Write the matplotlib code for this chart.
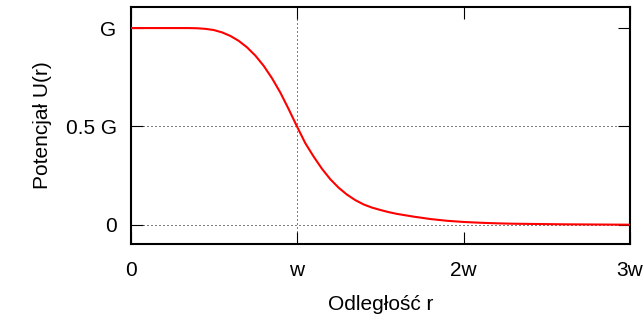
import matplotlib
matplotlib.use("Agg")
import matplotlib.pyplot as plt

plt.rcParams['font.family'] = ['Liberation Sans', 'DejaVu Sans']

# (r in units of w, U in units of G)
r_vals = [0.0, 0.10, 0.20, 0.30, 0.35, 0.40, 0.45, 0.50, 0.55, 0.60, 0.65,
          0.70, 0.75, 0.80, 0.85, 0.90, 0.95, 1.00, 1.05, 1.10, 1.15, 1.20,
          1.25, 1.30, 1.35, 1.40, 1.45, 1.50, 1.55, 1.60, 1.65, 1.70, 1.80,
          1.90, 2.00, 2.10, 2.20, 2.30, 2.40, 2.60, 2.80, 3.00]
u_vals = [1.0, 1.0, 1.0, 1.0, 1.0, 0.999, 0.996, 0.990, 0.978, 0.960, 0.935,
          0.902, 0.860, 0.808, 0.745, 0.672, 0.588, 0.500, 0.415, 0.347, 0.285,
          0.232, 0.189, 0.154, 0.126, 0.104, 0.088, 0.076, 0.065, 0.056, 0.049,
          0.042, 0.030, 0.021, 0.015, 0.011, 0.008, 0.006, 0.005, 0.003,
          0.002, 0.001]

x_ticks = [0, 1, 2, 3]
x_labels = ['0', 'w', '2w', '3w']
y_ticks = [0, 0.5, 1.0]
y_labels = ['0', '0.5 G', 'G']
x_grid = [1]
y_grid = [0, 0.5]

fig = plt.figure(figsize=(6.44, 3.21), dpi=100)
ax = fig.add_axes([130.5/644, (321-244)/321, 499.5/644, 237/321])

for g in y_grid:
    ax.axhline(g, color='black', lw=0.72, dashes=(1, 3), zorder=1)
for g in x_grid:
    ax.axvline(g, color='black', lw=0.72, dashes=(1, 3), zorder=1)

ax.plot(r_vals, u_vals, color='#ff0000', lw=1.5, zorder=3)

ax.set_xlim(0, 3)
ax.set_ylim(-0.097, 1.107)
ax.set_xticks(x_ticks)
ax.set_xticklabels(x_labels)
ax.set_yticks(y_ticks)
ax.set_yticklabels(y_labels)
ax.tick_params(direction='in', length=8.5, width=0.8, top=True, right=True,
               labelsize=15, colors='black')
ax.tick_params(axis='x', pad=12)
ax.tick_params(axis='y', pad=10)
for s in ax.spines.values():
    s.set_linewidth(1.5)

ax.set_xlabel('Odległość r', fontsize=15, labelpad=11)
ax.set_ylabel('Potencjał U(r)', fontsize=15, labelpad=10)

fig.savefig('out.png', dpi=100)
